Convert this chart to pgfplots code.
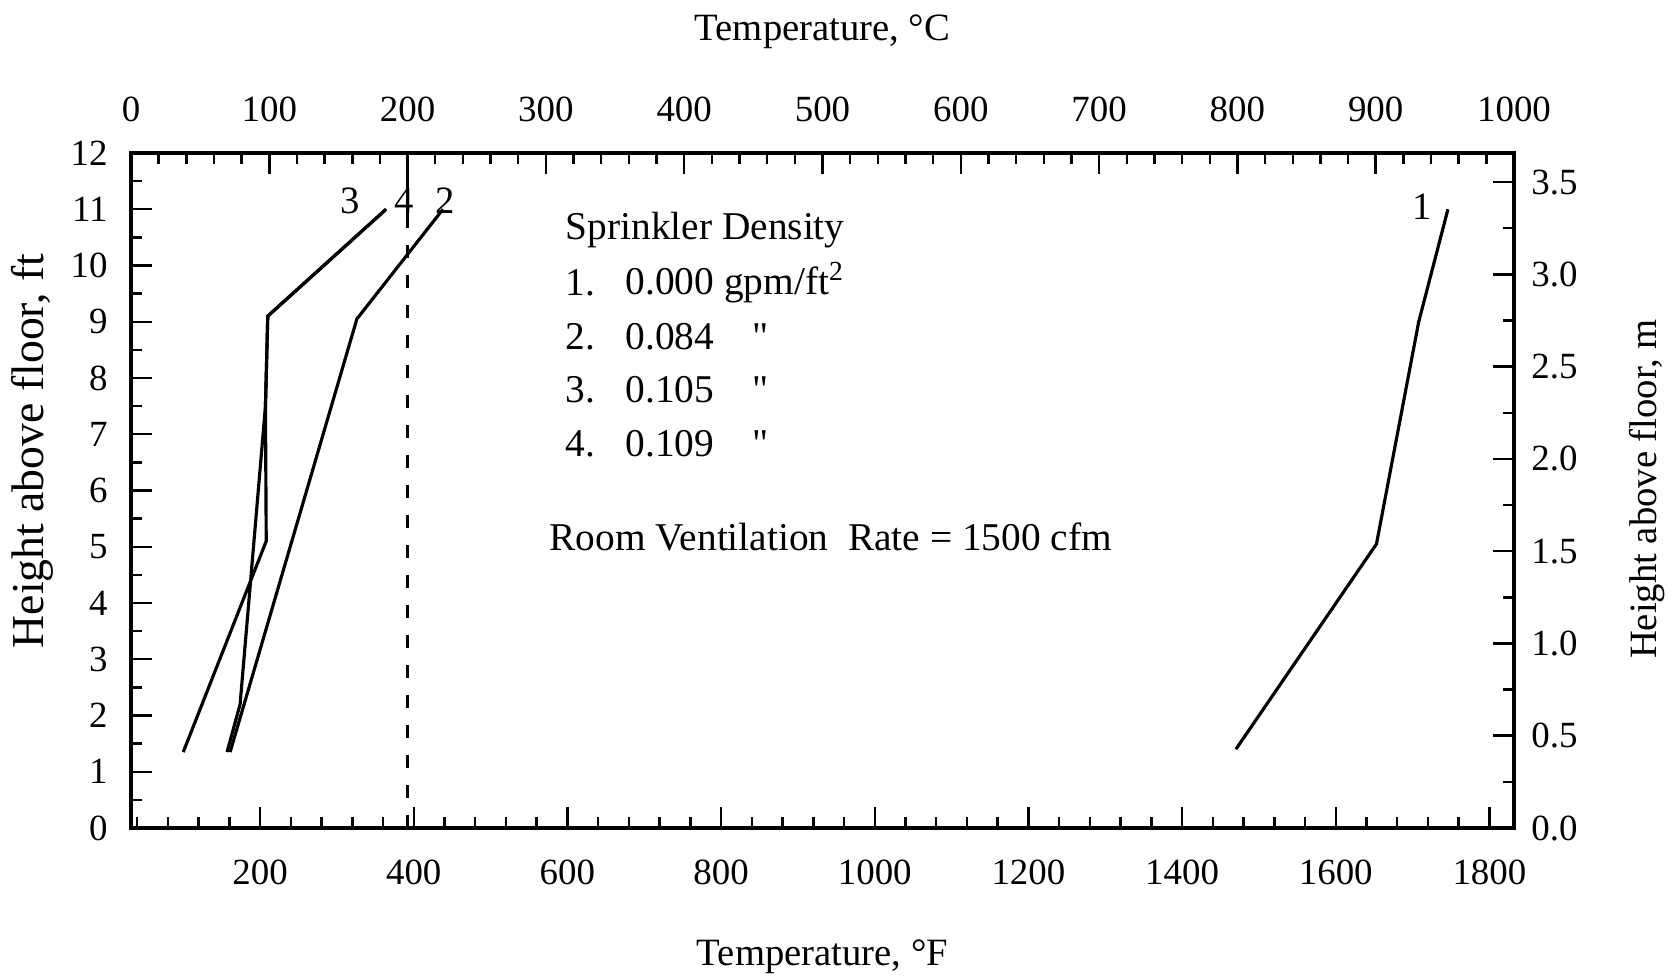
\documentclass[border=0pt]{standalone}
\usepackage{fontspec}
\setmainfont{Liberation Serif}
\newfontfamily\qfont[Ligatures=TeXOff]{Liberation Serif}
\usepackage{pgfplots}
\pgfplotsset{compat=1.18}
\begin{document}
\begin{tikzpicture}
\pgfplotsset{
  every axis/.append style={
    scale only axis, width=138.3mm, height=67.5mm,
    axis line style={line width=1.2pt},
    tick align=inside,
    major tick length=2.1mm, minor tick length=1.1mm,
    every tick/.style={black, line width=0.7pt},
    ticklabel style={font=\fontsize{10.5}{12}\selectfont},
    label style={font=\fontsize{11}{13}\selectfont},
    /pgf/number format/assume math mode=true,
    /pgf/number format/1000 sep={},
  }
}
\path[use as bounding box] (-13.1mm,-15mm) rectangle (154.6mm,82.8mm);
% bottom (F) and left (ft) scales, with the curves
\begin{axis}[
  xmin=32, xmax=1832, ymin=0, ymax=12,
  xtick={200,400,...,1800},
  minor xtick={40,80,...,1800},
  ytick={0,1,...,12},
  minor ytick={0.5,1.5,...,11.5},
  xtick pos=lower, ytick pos=left,
  xticklabel style={yshift=-2.0mm},
  yticklabel style={xshift=-1.1mm},
  xlabel={Temperature, °F},
  ylabel={Height above floor, ft},
  xlabel style={at={(axis description cs:0.5,-0.19)}, anchor=center},
  ylabel style={at={(axis description cs:-0.0716,0.5585)}, anchor=center, font=\fontsize{13}{15}\selectfont},
]
\addplot[black, line width=0.9pt] coordinates {(1470,1.4) (1653,5.05) (1708,9.0) (1746,11.0)};
\addplot[black, line width=0.9pt] coordinates {(161,1.35) (326,9.05) (438,11.0)};
\addplot[black, line width=0.9pt] coordinates {(100,1.35) (208,5.1) (207,7.5) (210,9.1) (364,11.0)};
\addplot[black, line width=0.9pt] coordinates {(157,1.35) (174,2.2) (207,7.5) (210,9.1) (364,11.0)};
\addplot[black, line width=0.9pt, dash pattern=on 1.3mm off 1.7mm] coordinates {(392,0) (392,10.9)};
\addplot[black, line width=0.9pt] coordinates {(392,10.9) (392,12)};
\node[font=\fontsize{11}{13}\selectfont] at (axis cs:317,11.15) {3};
\node[font=\fontsize{11}{13}\selectfont] at (axis cs:388,11.15) {4};
\node[font=\fontsize{11}{13}\selectfont] at (axis cs:441,11.15) {2};
\node[font=\fontsize{11}{13}\selectfont] at (axis cs:1712,11.05) {1};
\begin{scope}[every node/.style={font=\fontsize{11.2}{13}\selectfont, anchor=west, inner sep=0pt}]
\node at (axis cs:597,10.63) {Sprinkler Density};
\node at (axis cs:597,9.69) {1.};
\node at (axis cs:675,9.69) {0.000 gpm/ft\textsuperscript{2}};
\node at (axis cs:597,8.73) {2.};
\node at (axis cs:675,8.73) {0.084};
\node at (axis cs:840,8.73) {\qfont"};
\node at (axis cs:597,7.79) {3.};
\node at (axis cs:675,7.79) {0.105};
\node at (axis cs:840,7.79) {\qfont"};
\node at (axis cs:597,6.83) {4.};
\node at (axis cs:675,6.83) {0.109};
\node at (axis cs:840,6.83) {\qfont"};
\node at (axis cs:576,5.17) {Room Ventilation\ \ Rate = 1500 cfm};
\end{scope}
\end{axis}
% top (C) and right (m) scales
\begin{axis}[
  xmin=0, xmax=1000, ymin=0, ymax=3.6576,
  xtick={0,100,...,1000}, minor x tick num=4,
  ytick={0,0.5,1,1.5,2,2.5,3,3.5}, minor y tick num=1,
  xtick pos=upper, ytick pos=right,
  xticklabel pos=upper, yticklabel pos=right,
  xticklabel style={yshift=1.9mm},
  yticklabel style={xshift=0.5mm, /pgf/number format/.cd, fixed, fixed zerofill, precision=1},
  xlabel={Temperature, °C},
  ylabel={Height above floor, m},
  xlabel style={at={(axis description cs:0.5,1.18)}, anchor=center},
  ylabel style={at={(axis description cs:1.0962,0.232)}, anchor=west, rotate=0},
]
\end{axis}
\end{tikzpicture}
\end{document}
